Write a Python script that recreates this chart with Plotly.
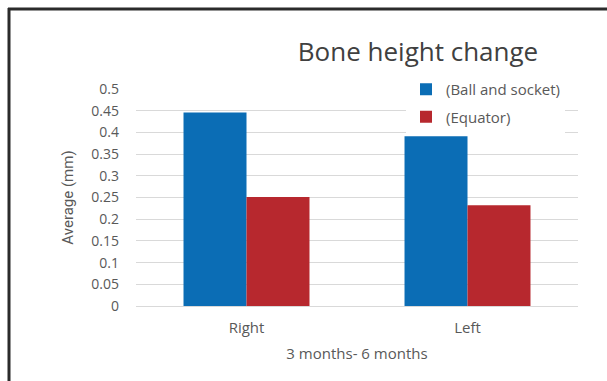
import plotly.graph_objects as go

categories = ["Right", "Left"]
ball_socket = [0.446, 0.391]
equator = [0.251, 0.232]
series_names = ["(Ball and socket)", "(Equator)"]
y_ticks = [0, 0.05, 0.1, 0.15, 0.2, 0.25, 0.3, 0.35, 0.4, 0.45, 0.5]
y_tick_labels = ["0", "0.05", "0.1", "0.15", "0.2", "0.25", "0.3", "0.35", "0.4", "0.45", "0.5"]

W, H = 607, 381
ml, mr, mt, mb = 136, 29, 89, 75
pw, ph = W - ml - mr, H - mt - mb

font_family = "Open Sans, DejaVu Sans, sans-serif"
txt = "#595959"

fig = go.Figure()
fig.add_trace(go.Bar(x=categories, y=ball_socket, name=series_names[0],
                     marker=dict(color="#0B6DB5", line=dict(width=0)), legendgroup="a"))
fig.add_trace(go.Bar(x=categories, y=equator, name=series_names[1],
                     marker=dict(color="#B7282E", line=dict(width=0)), legendgroup="b"))

def px_x(x):
    return (x - ml) / pw

def px_y(y):
    return 1 - (y - mt) / ph

# outer frame (top and left dark lines)
fig.add_shape(type="line", xref="paper", yref="paper",
              x0=px_x(8), x1=px_x(610), y0=px_y(9), y1=px_y(9),
              line=dict(color="#2b2b2b", width=3))
fig.add_shape(type="line", xref="paper", yref="paper",
              x0=px_x(9), x1=px_x(9), y0=px_y(8), y1=px_y(384),
              line=dict(color="#2b2b2b", width=3))

fig.update_layout(
    width=W, height=H,
    margin=dict(l=ml, r=mr, t=mt, b=mb),
    paper_bgcolor="white", plot_bgcolor="white",
    barmode="group", bargap=0.43, bargroupgap=0,
    font=dict(family=font_family, color=txt, size=14),
    title=dict(text="Bone height change", x=px_x(418), xref="paper", xanchor="center",
               y=1 - 52 / H, yref="container", yanchor="middle",
               font=dict(size=26, color="#404040", family=font_family)),
    legend=dict(x=px_x(406), y=px_y(73), xanchor="left", yanchor="top",
                bgcolor="white", borderwidth=0, tracegroupgap=5,
                font=dict(size=15, color=txt, family=font_family)),
    showlegend=True,
)
fig.update_xaxes(showgrid=False, showline=True, linecolor="#d9d9d9", linewidth=1,
                 tickfont=dict(size=15, color=txt), ticks="", ticklabelstandoff=8,
                 title=dict(text="3 months- 6 months", font=dict(size=15, color=txt), standoff=12))
fig.update_yaxes(range=[0, 0.5], tickvals=y_ticks, ticktext=y_tick_labels,
                 showgrid=True, gridcolor="#d9d9d9", gridwidth=1, zeroline=False,
                 showline=False, ticks="", ticklabelstandoff=16,
                 tickfont=dict(size=14, color=txt),
                 title=dict(text="Average (mm)", font=dict(size=15, color=txt, family="Roboto, sans-serif"), standoff=14))

fig.write_html("out.html")
